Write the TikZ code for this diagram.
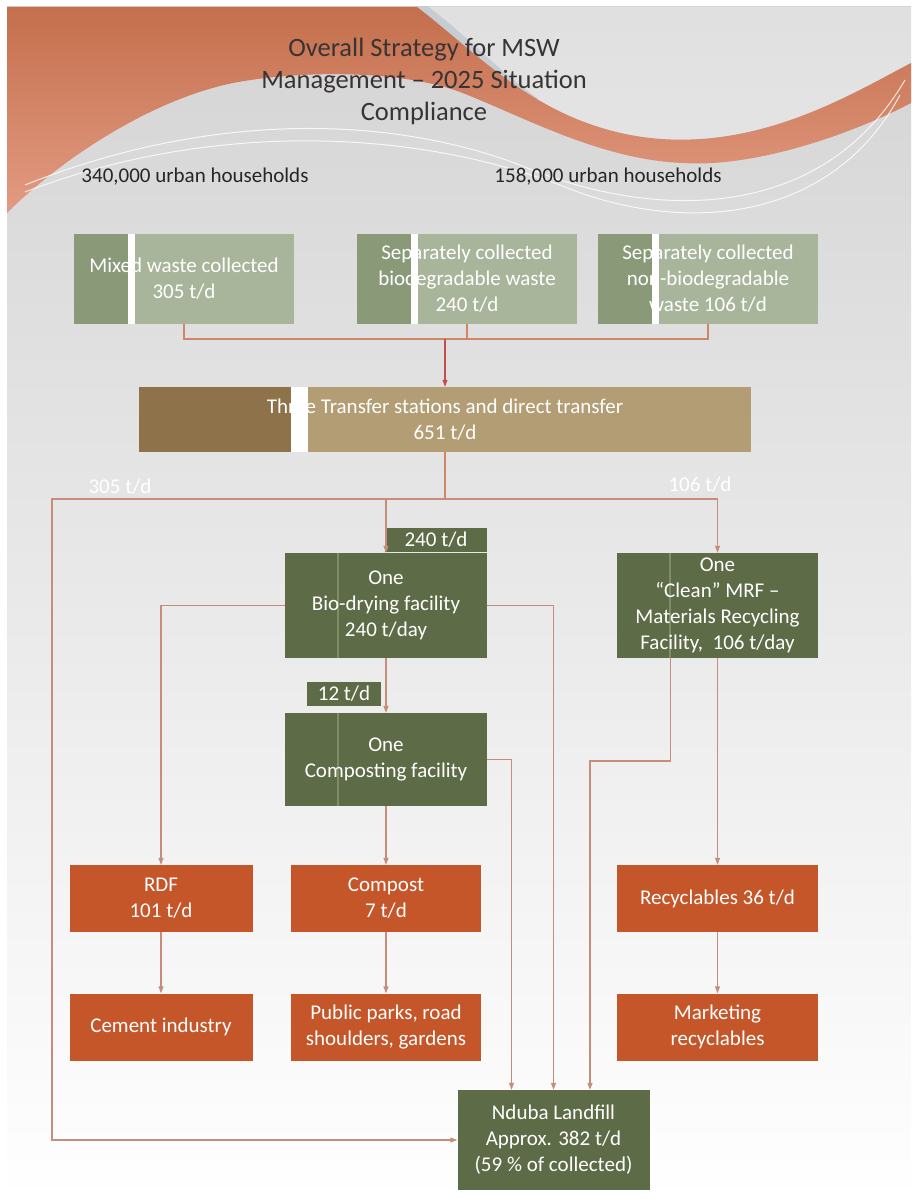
\documentclass[tikz,border=0pt]{standalone}
\usepackage{fontspec}
\setmainfont{Carlito}
\usepackage{xcolor}
\usepackage{tikz}
\usetikzlibrary{arrows, arrows.meta}
\usetikzlibrary{positioning}
\usetikzlibrary{calc}
\pgfdeclarelayer{bg}
\pgfsetlayers{bg,main}
\definecolor{sageD}{HTML}{8A9A78}
\definecolor{sageL}{HTML}{A9B59B}
\definecolor{tanD}{HTML}{8E7249}
\definecolor{tanL}{HTML}{B39D74}
\definecolor{oliveD}{HTML}{5E6B47}
\definecolor{oliveL}{HTML}{7F8D66}
\definecolor{rust}{HTML}{C4562A}
\definecolor{flowC}{HTML}{C88D7A}
\definecolor{linkC}{HTML}{D08468}
\definecolor{feedC}{HTML}{C0504D}
\definecolor{swooshD}{HTML}{C46F4D}
\definecolor{swooshL}{HTML}{E39B82}
\definecolor{steel}{HTML}{BCC5CD}
\definecolor{ink}{HTML}{383434}

\begin{document}
\begin{tikzpicture}[x=1pt, y=-1pt,
	box/.style={inner sep=0pt, align=center, text=white, font=\fontsize{21}{26}\selectfont},
	sagebox/.style={box, fill=sageL, minimum width=220pt, minimum height=90pt, path picture={
		\fill[sageD] (path picture bounding box.south west) rectangle ([xshift=54pt]path picture bounding box.north west);
		\fill[white] ([xshift=54pt]path picture bounding box.south west) rectangle ([xshift=61pt]path picture bounding box.north west);}},
	tanbox/.style={box, fill=tanL, path picture={
		\fill[tanD] (path picture bounding box.south west) rectangle ([xshift=152pt]path picture bounding box.north west);
		\fill[white] ([xshift=152pt]path picture bounding box.south west) rectangle ([xshift=169pt]path picture bounding box.north west);}},
	olivebox/.style={box, fill=oliveD, path picture={
		\draw[oliveL, line width=1.5pt] ([xshift=53pt]path picture bounding box.south west) -- ([xshift=53pt]path picture bounding box.north west);}},
	tagbox/.style={box, fill=oliveD, minimum height=24pt},
	rustbox/.style={box, fill=rust, minimum height=67pt},
	plain/.style={inner sep=0pt, font=\fontsize{21}{26}\selectfont, text=#1},
	link/.style={draw=linkC, line width=1.1pt},
	feed/.style={draw=feedC, line width=1.1pt, -{Triangle[length=7pt, width=5pt]}},
	flow/.style={draw=flowC, line width=1.1pt, -{Triangle[length=7pt, width=5pt]}}]
	\useasboundingbox (0,0) rectangle (911,1201);
	\begin{pgfonlayer}{bg}
		\fill[white] (0,0) rectangle (911,1201);
		\begin{scope}
			\clip (7,7) rectangle (911,1201);
			\shade[top color=black!17, bottom color=white] (7,7) rectangle (911,1201);
			\fill[white, opacity=0.3] (417,7) .. controls (480,55) and (540,125) .. (650,138) .. controls (760,150) and (850,95) .. (911,63) -- (911,7) -- cycle;
			\draw[steel, line width=9pt, opacity=0.7] (418,5) .. controls (455,30) and (490,70) .. (535,102);
			\shade[top color=swooshD, bottom color=swooshL] (7,7) -- (417,7) .. controls (480,55) and (540,125) .. (650,138) .. controls (760,150) and (850,95) .. (911,63) -- (911,103) .. controls (860,130) and (760,168) .. (683,163) .. controls (600,160) and (520,115) .. (460,92) .. controls (400,70) and (300,70) .. (233,83) .. controls (150,100) and (60,160) .. (7,213) -- cycle;
			\draw[white, line width=1pt, opacity=0.8] (25,185) .. controls (200,115) and (380,112) .. (520,165) .. controls (650,220) and (820,225) .. (905,80);
			\draw[white, line width=1pt, opacity=0.8] (25,192) .. controls (200,125) and (400,125) .. (560,185) .. controls (680,235) and (830,225) .. (900,95);
		\end{scope}
	\end{pgfonlayer}

	\node[align=center, inner sep=0pt, font=\fontsize{26.5}{32}\selectfont, text=ink] (title) at (424,81) {Overall Strategy for MSW\\Management – 2025 Situation\\Compliance};
	\node[plain=black!85] (urbanA) at (195,177) {340,000 urban households};
	\node[plain=black!85] (urbanB) at (608,177) {158,000 urban households};

	\foreach \name/\x/\txt in {mixed/184/{Mixed waste collected\\305 t/d}, bio/467/{Separately collected\\biodegradable waste\\240 t/d}, nonbio/708/{Separately collected\\non-biodegradable\\waste 106 t/d}}
	{
		\node[sagebox] (\name) at (\x,279) {\txt};
	}
	\node[tanbox, minimum width=612pt, minimum height=65pt] (transfer) at (445,419.5) {Three Transfer stations and direct transfer\\651 t/d};

	\node[tagbox, minimum width=102pt] (tag240) at (436,540) {240 t/d};
	\node[olivebox, minimum width=202pt, minimum height=105pt] (biodry) at (386,605.5) {One\\Bio-drying facility\\240 t/day};
	\node[olivebox, minimum width=201pt, minimum height=105pt] (mrf) at (717.5,605.5) {One\\“Clean” MRF –\\Materials Recycling\\Facility,\ \ 106 t/day};
	\node[tagbox, minimum width=74pt] (tag12) at (344,694) {12 t/d};
	\node[olivebox, minimum width=202pt, minimum height=93pt] (compo) at (386,759.5) {One\\Composting facility};

	\foreach \name/\x/\w/\txt in {rdf/161/183/{RDF\\101 t/d}, compost/386/190/{Compost\\7 t/d}, recyc/717.5/201/{Recyclables 36 t/d}}
	{
		\node[rustbox, minimum width=\w] (\name) at (\x,898.5) {\txt};
	}
	\foreach \name/\x/\w/\txt in {cement/161/183/{Cement industry}, parks/386/190/{Public parks, road\\shoulders, gardens}, market/717.5/201/{Marketing\\recyclables}}
	{
		\node[rustbox, minimum width=\w] (\name) at (\x,1027) {\txt};
	}
	\node[box, fill=oliveD, minimum width=192pt, minimum height=100pt] (landfill) at (553.5,1140) {Nduba Landfill\\Approx. 382 t/d\\(59 \% of collected)};

	\node[plain=white] (t305) at (120,487) {305 t/d};
	\node[plain=white] (t106) at (700,485) {106 t/d};

	\coordinate (join) at (445,339);
	\coordinate (split) at (445,499);
	\coordinate (west) at (52,499);
	\coordinate (bend) at (590,761);

	\draw[link] (mixed.south) |- (join);
	\draw[link] (nonbio.south) |- (join);
	\draw[link] (bio.south) -- (bio.south |- join);
	\draw[feed] (join) -- (transfer.north);
	\draw[link] (transfer.south) -- (split);
	\draw[flow] (split) -| (biodry.north);
	\draw[flow] (split) -| (mrf.north);
	\draw[flow] (split) -- (west) |- (landfill.west);
	\draw[flow] (biodry.west) -| (rdf.north);
	\draw[flow] (biodry.east) -| (landfill.north);
	\draw[flow] (compo.east) -| ([xshift=-42pt]landfill.north);
	\draw[flow] ([xshift=-47pt]mrf.south) |- (bend) -- (bend |- landfill.north);
	\foreach \a/\b in {biodry/compo, compo/compost, mrf/recyc, rdf/cement, compost/parks, recyc/market}
	{
		\draw[flow] (\a) -- (\b);
	}
\end{tikzpicture}
\end{document}
